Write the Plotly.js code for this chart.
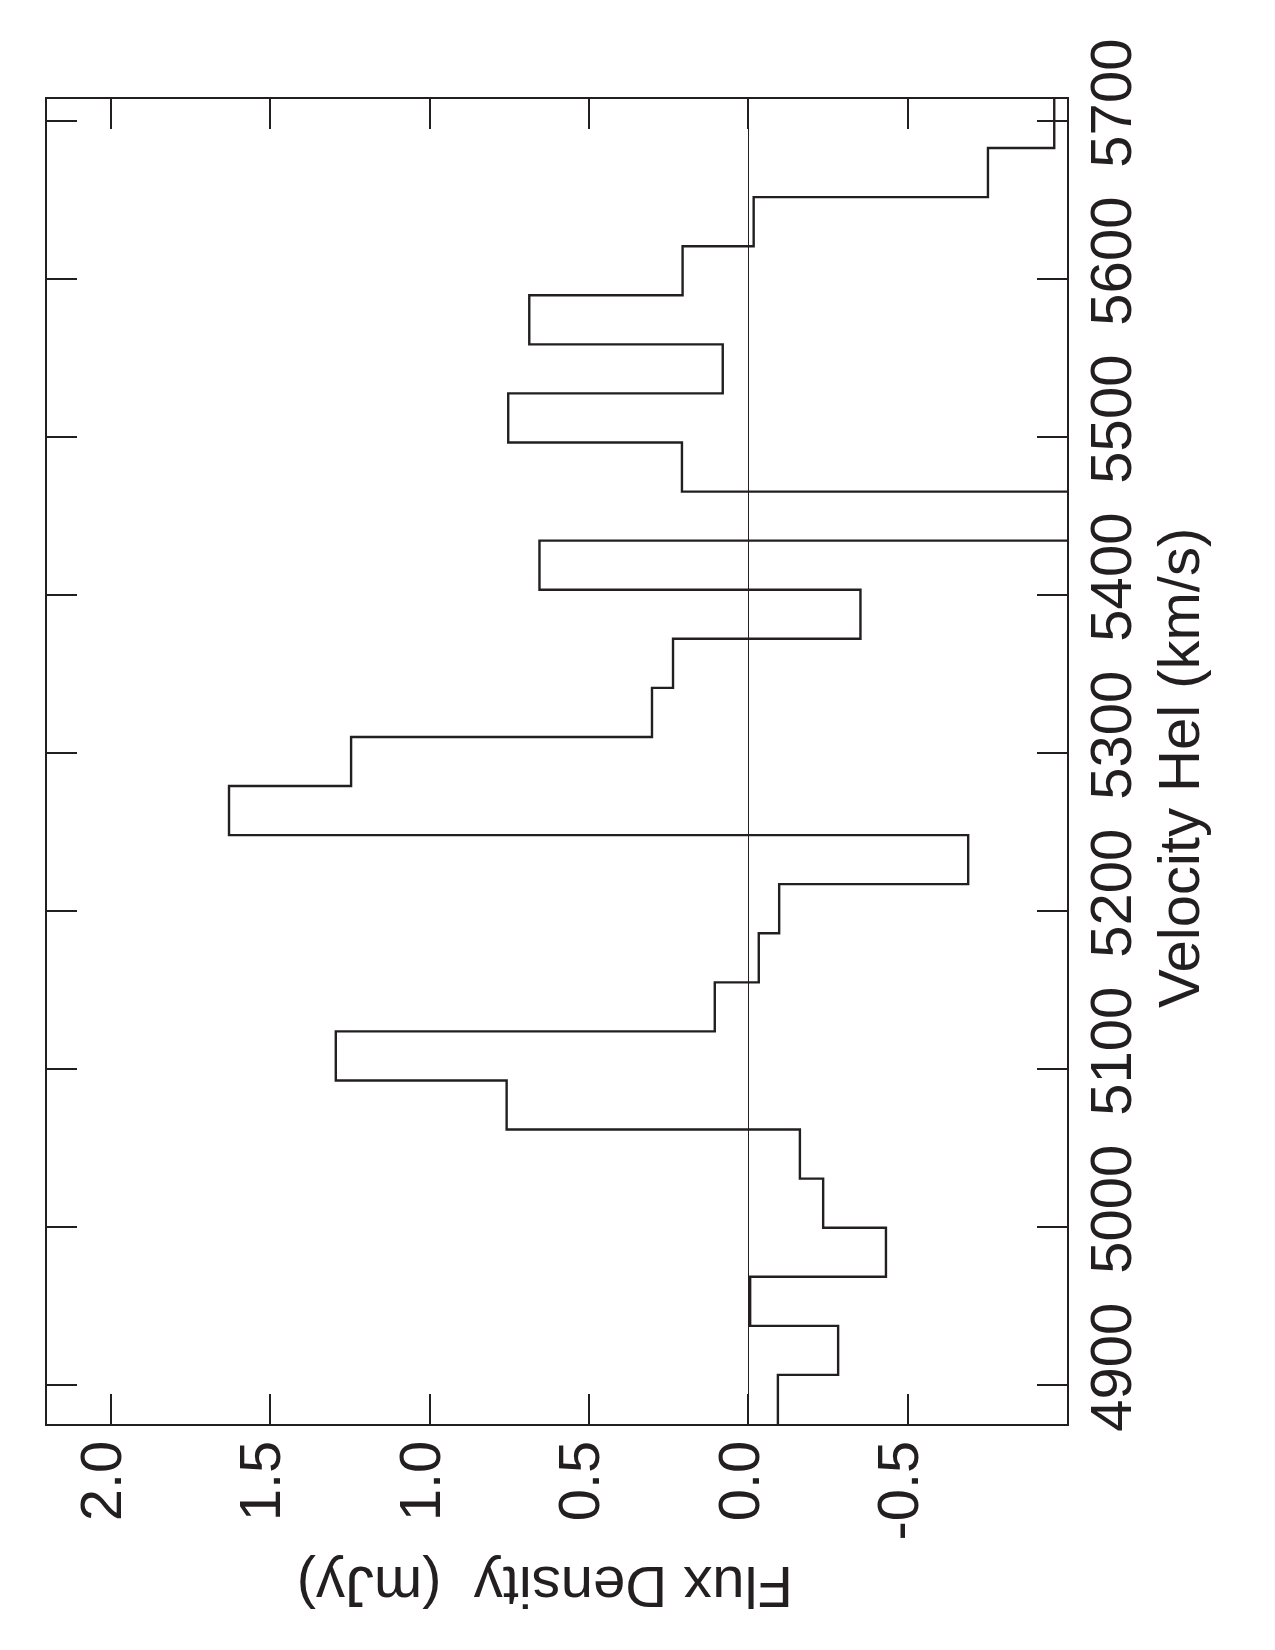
<!DOCTYPE html>
<html>
<head>
<meta charset="utf-8">
<script src="https://cdn.plot.ly/plotly-3.0.1.min.js"></script>
<style>
  html, body { margin: 0; padding: 0; background: #fff; overflow: hidden; }
  #page { position: absolute; left: 0; top: 0; width: 1275px; height: 1650px; background: #fff; }
  #chart {
    position: absolute; left: 0; top: 0;
    width: 1650px; height: 1275px;
    transform-origin: 0 0;
    transform: translate(0px, 1650px) rotate(-90deg);
  }
</style>
</head>
<body>
<div id="page"><div id="chart"></div></div>
<script>
// Channel edges of the spectrum (heliocentric velocity, km/s)
const velocityEdges = [4875.4, 4906.5, 4937.5, 4968.6, 4999.6, 5030.7, 5061.8, 5092.8,
  5123.9, 5154.9, 5186.0, 5217.1, 5248.1, 5279.2, 5310.2, 5341.3, 5372.4, 5403.4,
  5434.5, 5465.5, 5496.6, 5527.7, 5558.7, 5589.8, 5620.8, 5651.9, 5683.0, 5714.0];
// Flux density per channel (mJy); channel at ~5450 km/s runs off the bottom of the scale
const fluxDensity = [-0.093, -0.282, -0.006, -0.432, -0.235, -0.162, 0.758, 1.294,
  0.105, -0.033, -0.097, -0.690, 1.629, 1.246, 0.302, 0.236, -0.352, 0.655,
  -1.5, 0.208, 0.753, 0.080, 0.687, 0.206, -0.017, -0.752, -0.960];
const velocityTicks = [4900, 5000, 5100, 5200, 5300, 5400, 5500, 5600, 5700];
const fluxTicks = [-0.5, 0.0, 0.5, 1.0, 1.5, 2.0];
const fluxTickLabels = ['-0.5', '0.0', '0.5', '1.0', '1.5', '2.0'];
const velocityTitle = 'Velocity Hel (km/s)';
const fluxTitle = 'Flux Density\u00a0\u00a0(mJy)';

const FONT = 'Liberation Sans, Arial, Helvetica, sans-serif';
const INK = '#231f20';

const trace = {
  type: 'scatter',
  mode: 'lines',
  x: velocityEdges,
  y: fluxDensity.concat([fluxDensity[fluxDensity.length - 1]]),
  line: { shape: 'hv', color: INK, width: 2.4 },
  hoverinfo: 'skip',
  showlegend: false
};

const layout = {
  width: 1650,
  height: 1275,
  margin: { l: 226, r: 99, t: 47, b: 208, pad: 0 },
  paper_bgcolor: '#ffffff',
  plot_bgcolor: '#ffffff',
  showlegend: false,
  font: { family: FONT, color: INK, size: 58 },
  xaxis: {
    range: [velocityEdges[0], velocityEdges[velocityEdges.length - 1]],
    tickmode: 'array',
    tickvals: velocityTicks,
    ticktext: velocityTicks.map(String),
    ticks: 'inside',
    ticklen: 30,
    tickwidth: 2,
    tickcolor: INK,
    showline: true,
    linewidth: 2,
    linecolor: INK,
    mirror: 'ticks',
    showgrid: false,
    zeroline: false,
    tickfont: { family: FONT, size: 58, color: INK },
    ticklabelstandoff: -8,
    ticklabelshift: 18,
    automargin: false
  },
  yaxis: {
    range: [-1.0, 2.2],
    tickmode: 'array',
    tickvals: fluxTicks,
    ticktext: fluxTickLabels,
    ticks: 'inside',
    ticklen: 30,
    tickwidth: 2,
    tickcolor: INK,
    showline: true,
    linewidth: 2,
    linecolor: INK,
    mirror: 'ticks',
    showgrid: false,
    zeroline: true,
    zerolinecolor: INK,
    zerolinewidth: 1.4,
    tickfont: { family: FONT, size: 58, color: INK },
    ticklabelstandoff: 3,
    ticklabelshift: -10,
    automargin: false
  },
  annotations: [
    {
      text: velocityTitle, xref: 'paper', yref: 'paper',
      x: 0.495, y: -0.1089, xanchor: 'center', yanchor: 'middle',
      showarrow: false, font: { family: FONT, size: 58, color: INK }
    },
    {
      text: fluxTitle, xref: 'paper', yref: 'paper',
      x: -0.1229, y: 0.512, xanchor: 'center', yanchor: 'middle', textangle: -90,
      showarrow: false, font: { family: FONT, size: 58, color: INK }
    }
  ]
};

Plotly.newPlot('chart', [trace], layout, { staticPlot: true, displayModeBar: false });
</script>
</body>
</html>
